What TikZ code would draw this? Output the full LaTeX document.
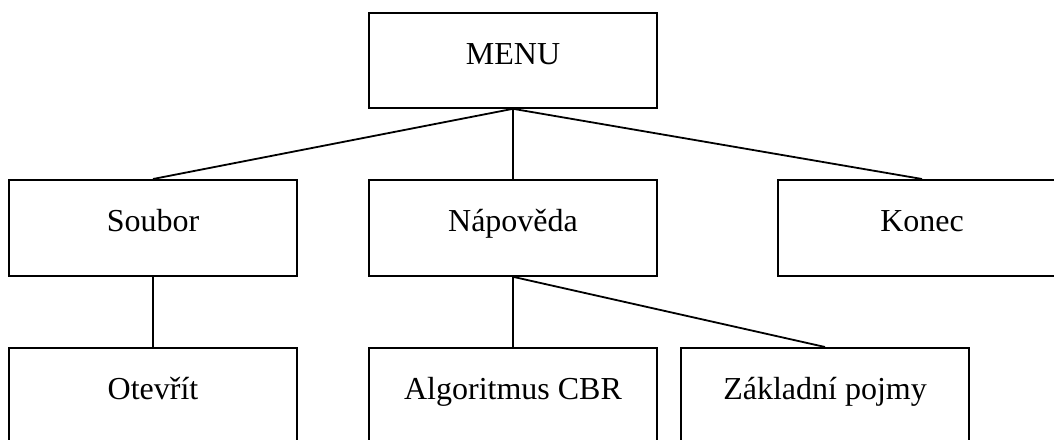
\documentclass[tikz,border=0pt]{standalone}
\usepackage{fontspec}
\setmainfont{Liberation Serif}
\begin{document}
\begin{tikzpicture}[x=1pt,y=-1pt,
  box/.style={draw, line width=1.8pt, anchor=north, inner sep=0pt,
    minimum width=288pt, text height=52pt, text depth=44pt,
    font=\fontsize{32}{38}\selectfont},
  link/.style={line width=1.8pt}]
\useasboundingbox (0,0) rectangle (1054,439);
\clip (0,0) rectangle (1054,439);
% top level
\node[box, text depth=43pt] (menu) at (513,12) {MENU};
% second level
\node[box] (soubor) at (153,179) {Soubor};
\node[box] (napoveda) at (513,179) {Nápověda};
\node[box] (konec) at (922,179) {Konec};
% third level
\node[box] (otevrit) at (153,347) {Otevřít};
\node[box] (algoritmus) at (513,347) {Algoritmus CBR};
\node[box] (pojmy) at (825,347) {Základní pojmy};
% connectors
\draw[link] (menu.south) -- (soubor.north);
\draw[link] (menu.south) -- (napoveda.north);
\draw[link] (menu.south) -- (konec.north);
\draw[link] (soubor.south) -- (otevrit.north);
\draw[link] (napoveda.south) -- (algoritmus.north);
\draw[link] (napoveda.south) -- (pojmy.north);
\end{tikzpicture}
\end{document}
